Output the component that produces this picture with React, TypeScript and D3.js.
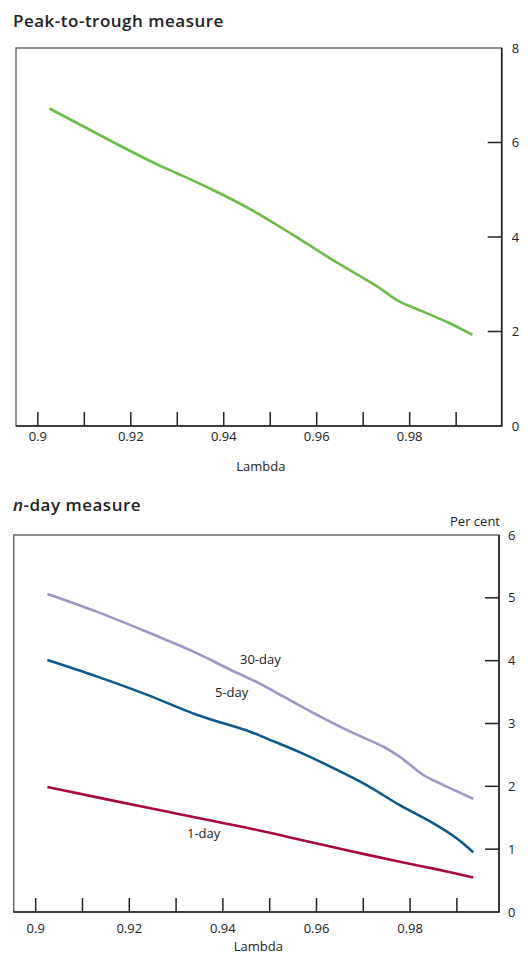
import React from "react";
import * as d3 from "d3";

const xTicks = [0.9, 0.91, 0.92, 0.93, 0.94, 0.95, 0.96, 0.97, 0.98, 0.99];
const xLabels = [0.9, 0.92, 0.94, 0.96, 0.98];

const peakLambda = [0.9025, 0.9127, 0.9199, 0.9256, 0.9299, 0.9378, 0.9457, 0.9543, 0.9635, 0.9729, 0.9779, 0.9829, 0.9887, 0.9935];
const peakValues = [6.72, 6.19, 5.82, 5.54, 5.35, 4.99, 4.59, 4.08, 3.51, 2.96, 2.63, 2.42, 2.17, 1.93];
const peakYTicks = [0, 2, 4, 6, 8];

const day30Lambda = [0.9025, 0.913, 0.9237, 0.9344, 0.9415, 0.948, 0.9529, 0.96, 0.9672, 0.9743, 0.9778, 0.9828, 0.9857, 0.9935];
const day30Values = [5.06, 4.78, 4.46, 4.12, 3.86, 3.63, 3.43, 3.14, 2.87, 2.63, 2.47, 2.18, 2.07, 1.8];
const day5Lambda = [0.9025, 0.913, 0.9237, 0.9344, 0.9458, 0.9494, 0.9565, 0.9636, 0.9707, 0.9778, 0.985, 0.99, 0.9935];
const day5Values = [4.01, 3.75, 3.46, 3.14, 2.87, 2.76, 2.54, 2.29, 2.02, 1.7, 1.41, 1.17, 0.95];
const day1Lambda = [0.9025, 0.9245, 0.9458, 0.9565, 0.9672, 0.9778, 0.985, 0.9935];
const day1Values = [1.99, 1.65, 1.33, 1.15, 0.97, 0.8, 0.69, 0.55];
const nDayYTicks = [0, 1, 2, 3, 4, 5, 6];

const FONT = "'Open Sans', 'Noto Sans', sans-serif";

type Series = { xs: number[]; ys: number[]; color: string };

function Panel({ xDomain, xRange, yDomain, yRange, series, yTicks, labelDx, tickDy, titleDy }: {
  xDomain: [number, number]; xRange: [number, number];
  yDomain: [number, number]; yRange: [number, number];
  series: Series[]; yTicks: number[]; labelDx: number; tickDy: number; titleDy: number;
}) {
  const x = d3.scaleLinear().domain(xDomain).range(xRange);
  const y = d3.scaleLinear().domain(yDomain).range(yRange);
  const [x0, x1] = xRange;
  const [yb, yt] = yRange;
  const tickLen = 14;
  return (
    <g>
      <rect x={x0} y={yt} width={x1 - x0} height={yb - yt} fill="none" stroke="#555" strokeWidth={1.3} />
      <line x1={x0} x2={x1 + 0.6} y1={yb} y2={yb} stroke="#222" strokeWidth={1.6} />
      <line x1={x1} x2={x1} y1={yt} y2={yb} stroke="#222" strokeWidth={1.6} />
      {xTicks.map((t) => (
        <line key={"xt" + t} x1={x(t)} x2={x(t)} y1={yb} y2={yb - tickLen} stroke="#222" strokeWidth={1.5} />
      ))}
      {xLabels.map((t) => (
        <text key={"xl" + t} x={x(t)} y={yb + tickDy} textAnchor="middle" fontFamily={FONT} fontSize={13} fill="#222">
          {String(t)}
        </text>
      ))}
      <text x={(x0 + x1) / 2 + 2} y={yb + titleDy} textAnchor="middle" fontFamily={FONT} fontSize={13} fill="#222">Lambda</text>
      {yTicks.map((t) => (
        <g key={"yt" + t}>
          {t !== yDomain[0] && t !== yDomain[1] && (
            <line x1={x1} x2={x1 - tickLen} y1={y(t)} y2={y(t)} stroke="#222" strokeWidth={1.5} />
          )}
          <text x={x1 + labelDx} y={y(t) + 4.5} fontFamily={FONT} fontSize={13} fill="#222">{t}</text>
        </g>
      ))}
      {series.map((s, i) => {
        const pts: [number, number][] = s.xs.map((v, j) => [x(v), y(s.ys[j])]);
        const path = d3.line().curve(d3.curveCatmullRom.alpha(0.5))(pts) || "";
        return <path key={i} d={path} fill="none" stroke={s.color} strokeWidth={2.6} strokeLinecap="butt" />;
      })}
    </g>
  );
}

export default function App() {
  return (
    <svg width={528} height={956} style={{ display: "block", position: "absolute", left: 0, top: 0, background: "#fff" }}>
      <text x={13} y={27} fontFamily={FONT} fontSize={17} fontWeight={600} letterSpacing={0.5} fill="#222">Peak-to-trough measure</text>
      <Panel
        xDomain={[0.8953, 0.9998]} xRange={[16, 501.7]}
        yDomain={[0, 8]} yRange={[426, 48]}
        series={[{ xs: peakLambda, ys: peakValues, color: "#6cbd45" }]}
        yTicks={peakYTicks} labelDx={10} tickDy={15} titleDy={45}
      />
      <text x={13} y={511} fontFamily={FONT} fontSize={17} fontWeight={600} letterSpacing={0.5} fill="#222">
        <tspan fontStyle="italic">n</tspan>-day measure
      </text>
      <text x={500} y={526} textAnchor="end" fontFamily={FONT} fontSize={13} fill="#222">Per cent</text>
      <Panel
        xDomain={[0.8953, 0.999]} xRange={[13.7, 499]}
        yDomain={[0, 6]} yRange={[912, 535]}
        series={[
          { xs: day30Lambda, ys: day30Values, color: "#a293c8" },
          { xs: day5Lambda, ys: day5Values, color: "#0a5a8e" },
          { xs: day1Lambda, ys: day1Values, color: "#a60a41" },
        ]}
        yTicks={nDayYTicks} labelDx={9} tickDy={21} titleDy={39}
      />
      <text x={240} y={664} fontFamily={FONT} fontSize={13} fill="#222">30-day</text>
      <text x={215} y={697} fontFamily={FONT} fontSize={13} fill="#222">5-day</text>
      <text x={187} y={838} fontFamily={FONT} fontSize={13} fill="#222">1-day</text>
    </svg>
  );
}
